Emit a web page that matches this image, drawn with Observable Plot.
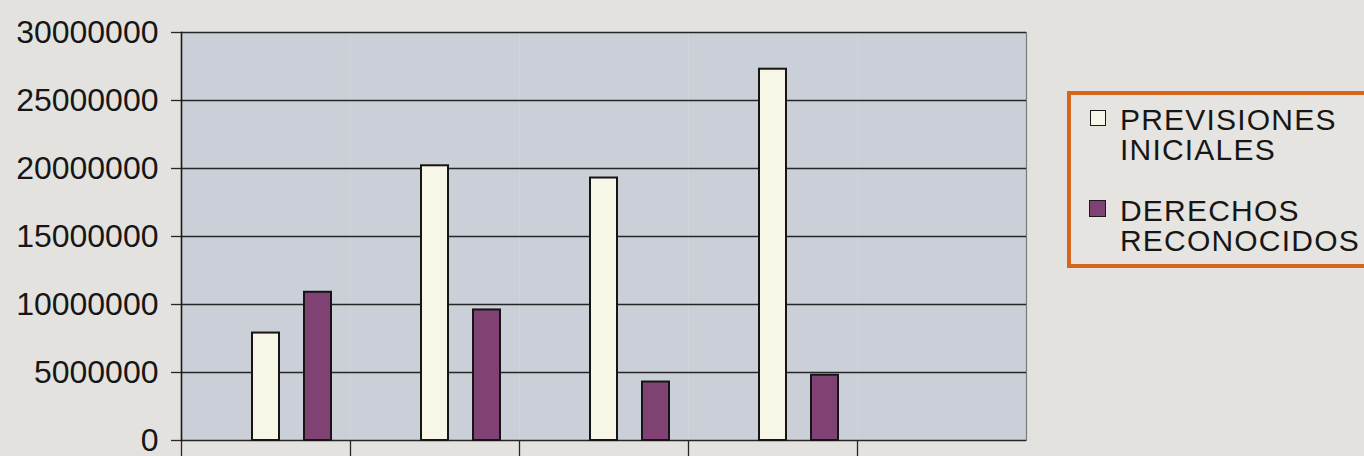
<!DOCTYPE html>
<html>
<head>
<meta charset="utf-8">
<script src="https://cdn.jsdelivr.net/npm/d3@7"></script>
<script src="https://cdn.jsdelivr.net/npm/@observablehq/plot@0.6"></script>
<style>
  html, body { margin: 0; padding: 0; }
  body { width: 1364px; height: 456px; overflow: hidden; background: #e4e2de; position: relative;
         font-family: "Liberation Sans", Arial, sans-serif; color: #161616; }
  #chart { position: absolute; left: 0; top: 0; }
  #legend { position: absolute; left: 1067px; top: 91px; width: 330px; height: 177px;
            border: 4px solid #d4661e; box-sizing: border-box; background: #e6e4e0; }
  .line { position: absolute; left: 49px; font-size: 30px; line-height: 30px; height: 30px; letter-spacing: 1.2px; white-space: nowrap; }
  .sw { position: absolute; box-sizing: border-box; border: 1.6px solid #1a1a1a; }
</style>
</head>
<body>
<div id="chart"></div>
<div id="legend"></div>
<script>
// ---- data ----
const categories = ["1", "2", "3", "4", "5"];
const series = ["PREVISIONES INICIALES", "DERECHOS RECONOCIDOS"];
const legendLines = [["PREVISIONES", "INICIALES"], ["DERECHOS", "RECONOCIDOS"]];
const previsiones = [7900000, 20200000, 19300000, 27300000, null];
const derechos = [10900000, 9600000, 4300000, 4800000, null];
const yTicks = [0, 5000000, 10000000, 15000000, 20000000, 25000000, 30000000];
const colors = ["#f8f6e6", "#7f4273"];

const rows = [];
categories.forEach((c, i) => {
  rows.push({cat: c, serie: series[0], value: previsiones[i] == null ? NaN : previsiones[i]});
  rows.push({cat: c, serie: series[1], value: derechos[i] == null ? NaN : derechos[i]});
});

const W = 1040, H = 456, ML = 181, MR = 14, MT = 32, MB = 16;
const step = (W - ML - MR) / categories.length;

const chart = Plot.plot({
  width: W, height: H,
  marginLeft: ML, marginRight: MR, marginTop: MT, marginBottom: MB,
  style: {background: "transparent", fontFamily: "'Liberation Sans', Arial, sans-serif", color: "#161616", overflow: "visible"},
  fx: {domain: categories, padding: 0, axis: null, label: null},
  x: {domain: ["", ...series], paddingInner: 0.49, paddingOuter: 0.34, axis: null},
  y: {domain: [0, 30000000], axis: null, label: null},
  color: {domain: series, range: colors},
  marks: [
    Plot.frame({fill: "#cbcfd8", stroke: null}),
    Plot.frame({anchor: "right", facetAnchor: "right", stroke: "#7c7c7c", strokeWidth: 1.2}),
    Plot.gridY(yTicks, {stroke: "#262626", strokeOpacity: 1, strokeWidth: 1.3}),
    Plot.axisY(yTicks, {tickSize: 10, tickPadding: 13, tickFormat: d => String(d), fontSize: 32, stroke: "#262626", strokeWidth: 1.3}),
    Plot.axisFx({anchor: "bottom", label: null, tickSize: 16, tickFormat: () => "", dx: -step / 2, stroke: "#262626", strokeWidth: 1.3}),
    Plot.frame({anchor: "left", facetAnchor: "left", stroke: "#1a1a1a", strokeWidth: 1.6}),
    Plot.barY(rows, {fx: "cat", x: "serie", y: "value", fill: "serie", stroke: "#151515", strokeWidth: 2})
  ]
});
document.getElementById("chart").append(chart);

// ---- legend ----
const legend = document.getElementById("legend");
const lineTops = [[10, 40], [101, 131]];
const swatch = [{left: 19, top: 15, size: 16}, {left: 18, top: 105, size: 17}];
series.forEach((s, i) => {
  const sw = document.createElement("div");
  sw.className = "sw";
  sw.style.left = swatch[i].left + "px";
  sw.style.top = swatch[i].top + "px";
  sw.style.width = swatch[i].size + "px";
  sw.style.height = swatch[i].size + "px";
  sw.style.background = colors[i];
  legend.append(sw);
  legendLines[i].forEach((t, j) => {
    const ln = document.createElement("div");
    ln.className = "line";
    ln.style.top = lineTops[i][j] + "px";
    ln.textContent = t;
    legend.append(ln);
  });
});
</script>
</body>
</html>
